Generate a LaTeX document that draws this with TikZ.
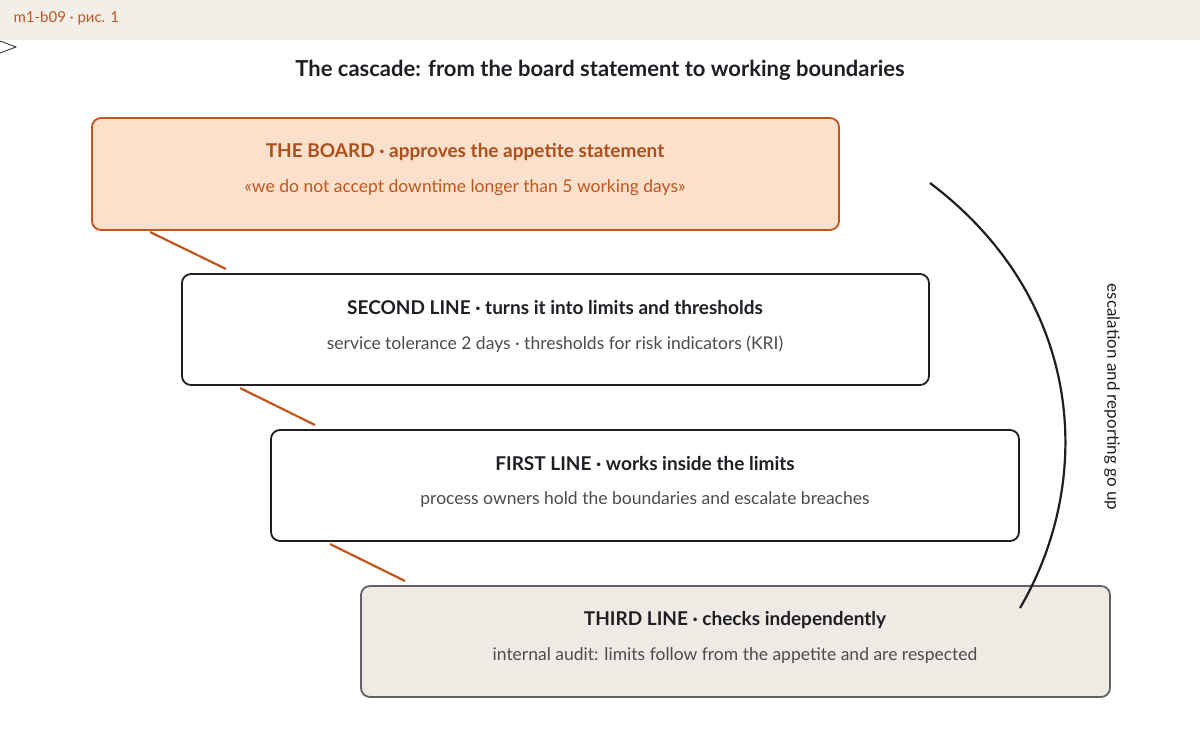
\documentclass[tikz,border=0pt]{standalone}
\usepackage{fontspec}
\setmainfont{Lato}
\begin{document}
\begin{tikzpicture}[x=1pt,y=-1pt,
  box/.style={draw=#1,line width=1.8pt,rounded corners=9pt},
  head/.style={font=\fontsize{19}{22}\selectfont\bfseries,anchor=center},
  sub/.style={font=\fontsize{17.5}{21}\selectfont,anchor=center},
  conn/.style={draw=orange!60!red!80!black,line width=2.2pt}]
\definecolor{rust}{HTML}{C0561E}
\definecolor{peach}{HTML}{FBE0CC}
\definecolor{beige}{HTML}{EFEBE4}
\definecolor{ink}{HTML}{1E1E24}
\useasboundingbox (0,0) rectangle (1200,744);
\fill[beige!80!white] (0,0) rectangle (1200,40);
\node[anchor=west,text=rust,font=\fontsize{15}{18}\selectfont] (hdr) at (10,18) {m1-b09 · рис. 1};
\draw[ink,line width=0.8pt] (0,41) -- (16,47) -- (0,53);
\node[font=\fontsize{22}{26}\selectfont\bfseries,text=ink] (title) at (600,70) {The cascade: from the board statement to working boundaries};

\draw[box=rust,fill=peach] (92,118) rectangle (839,230);
\node[head,text=rust!90!black] (bh) at (465,152) {THE BOARD · approves the appetite statement};
\node[sub,text=rust] (bs) at (465,188) {«we do not accept downtime longer than 5 working days»};

\draw[box=ink,fill=white] (182,274) rectangle (929,385);
\node[head,text=ink] (sh) at (555,308) {SECOND LINE · turns it into limits and thresholds};
\node[sub,text=ink!80] (ss) at (555,344) {service tolerance 2 days · thresholds for risk indicators (KRI)};

\draw[box=ink,fill=white] (271,430) rectangle (1019,541);
\node[head,text=ink] (fh) at (645,464) {FIRST LINE · works inside the limits};
\node[sub,text=ink!80] (fs) at (645,500) {process owners hold the boundaries and escalate breaches};

\draw[box=ink!70,fill=beige] (361,586) rectangle (1110,697);
\node[head,text=ink] (th) at (735,620) {THIRD LINE · checks independently};
\node[sub,text=ink!80] (ts) at (735,656) {internal audit: limits follow from the appetite and are respected};

\coordinate (c1a) at (150,232); \coordinate (c1b) at (226,269);
\coordinate (c2a) at (240,388); \coordinate (c2b) at (315,425);
\coordinate (c3a) at (330,544); \coordinate (c3b) at (405,581);
\draw[conn,rust] (c1a)--(c1b); \draw[conn,rust] (c2a)--(c2b); \draw[conn,rust] (c3a)--(c3b);

\coordinate (ea) at (1020,608); \coordinate (eb) at (930,183);
\draw[ink,line width=2.2pt] (ea) .. controls (1095,480) and (1085,300) .. (eb);
\node[rotate=-90,font=\fontsize{17}{20}\selectfont,text=ink] (el) at (1112,397) {escalation and reporting go up};
\end{tikzpicture}
\end{document}
